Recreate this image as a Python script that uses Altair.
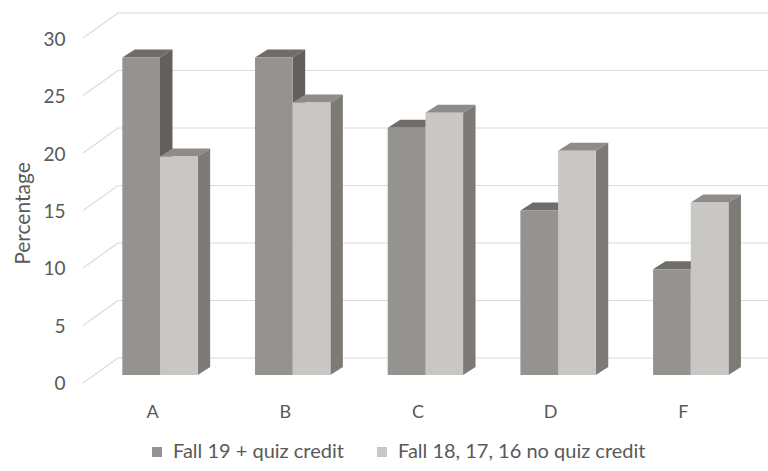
import json
import altair as alt
import pandas as pd

# Grade distribution by group
categories = ["A", "B", "C", "D", "F"]
series_names = ["Fall 19 + quiz credit", "Fall 18, 17, 16 no quiz credit"]
fall19_quiz = [27.6, 27.6, 21.5, 14.3, 9.2]
fall_prior = [19.0, 23.7, 22.8, 19.5, 15.0]
y_ticks = [0, 5, 10, 15, 20, 25, 30]

# Face shading for the pseudo-3D columns
front_colors = ["#959390", "#c9c7c4"]
top_colors = ["#6f6c69", "#8e8b88"]
side_colors = ["#625f5c", "#7e7b77"]
grid_color = "#dcdcdc"
text_color = "#595959"
FONT = "Lato"

# Oblique projection (x in category slots, y in percentage points)
BAR_W = 0.284        # width of one column
DEPTH_X = 0.094      # column depth, horizontal component
DEPTH_Y = 0.70       # column depth, vertical component
FLOOR_FRONT_X = -0.580
WALL_X = -0.3165
FLOOR_FRONT_DY = -0.696
WALL_DY = 1.478
X_DOMAIN = [-0.603, 4.582]
Y_DOMAIN = [-0.696, 32.609]

front_rows, side_rows, top_rows = [], [], []
for si, (name, vals) in enumerate(zip(series_names, [fall19_quiz, fall_prior])):
    for ci, (cat, v) in enumerate(zip(categories, vals)):
        x0 = ci - BAR_W + si * BAR_W
        x1 = x0 + BAR_W
        bar = f"{cat}-{si}"
        front_rows.append(dict(series=name, s=si, bar=bar, x0=x0, x1=x1, v=v, base=0))
        side_rows.append(dict(s=si, bar=bar, x=x1, top=v, bottom=0, shade=side_colors[si]))
        side_rows.append(dict(s=si, bar=bar, x=x1 + DEPTH_X, top=v + DEPTH_Y,
                              bottom=DEPTH_Y, shade=side_colors[si]))
        top_rows.append(dict(s=si, bar=bar, y=v, xl=x0, xr=x1, shade=top_colors[si]))
        top_rows.append(dict(s=si, bar=bar, y=v + DEPTH_Y, xl=x0 + DEPTH_X,
                             xr=x1 + DEPTH_X, shade=top_colors[si]))

front_df = pd.DataFrame(front_rows)
side_df = pd.DataFrame(side_rows)
top_df = pd.DataFrame(top_rows)

wall_df = pd.DataFrame({
    "g": y_ticks,
    "x": [WALL_X] * len(y_ticks),
    "x2": [X_DOMAIN[1]] * len(y_ticks),
    "y": [g + WALL_DY for g in y_ticks],
})
diag_df = pd.DataFrame({
    "x": [FLOOR_FRONT_X] * len(y_ticks),
    "x2": [WALL_X] * len(y_ticks),
    "y": [g + FLOOR_FRONT_DY for g in y_ticks],
    "y2": [g + WALL_DY for g in y_ticks],
})

x_scale = alt.Scale(domain=X_DOMAIN, nice=False, zero=False)
y_scale = alt.Scale(domain=Y_DOMAIN, nice=False, zero=False)

label_expr = json.dumps(categories) + "[datum.value]"

x_axis = alt.Axis(values=list(range(len(categories))), labelExpr=label_expr,
                  grid=False, domain=False, ticks=False, tickSize=0,
                  labelOffset=-8, labelPadding=20, labelFlush=False,
                  labelFontSize=18, labelFont=FONT, labelColor=text_color,
                  title=None)
y_axis = alt.Axis(values=y_ticks, grid=False, domain=False, ticks=False, tickSize=0,
                  labelOffset=9, labelPadding=15, labelFlush=False,
                  labelFontSize=19, labelFont=FONT, labelColor=text_color,
                  title="Percentage", titleFont=FONT, titleFontSize=21,
                  titleFontWeight="normal", titleColor=text_color,
                  titleX=-57, titleY=213, titleBaseline="middle")

wall = alt.Chart(wall_df).mark_rule(color=grid_color, strokeWidth=1.2).encode(
    x=alt.X("x:Q", scale=x_scale, axis=x_axis),
    x2="x2:Q",
    y=alt.Y("y:Q", scale=y_scale, axis=y_axis),
)
diag = alt.Chart(diag_df).mark_rule(color=grid_color, strokeWidth=1.2).encode(
    x="x:Q", x2="x2:Q", y="y:Q", y2="y2:Q",
)

color_enc = alt.Color(
    "series:N",
    scale=alt.Scale(domain=series_names, range=front_colors),
    legend=alt.Legend(
        title=None, orient="none", direction="horizontal",
        legendX=67, legendY=442,
        symbolType="square", symbolSize=100, symbolStrokeWidth=0,
        labelFont=FONT, labelFontSize=20, labelColor=text_color,
        labelOffset=6, columnPadding=28, labelLimit=400,
    ),
)


def column_layers(si):
    side = alt.Chart(side_df).transform_filter(alt.datum.s == si).mark_area().encode(
        x="x:Q", y="top:Q", y2="bottom:Q", detail="bar:N",
        fill=alt.Fill("shade:N", scale=None),
    )
    top = alt.Chart(top_df).transform_filter(alt.datum.s == si).mark_area(
        orient="horizontal").encode(
        y="y:Q", x="xl:Q", x2="xr:Q", detail="bar:N",
        fill=alt.Fill("shade:N", scale=None),
    )
    front = alt.Chart(front_df).transform_filter(alt.datum.s == si).mark_rect().encode(
        x="x0:Q", x2="x1:Q", y="v:Q", y2="base:Q",
        color=color_enc,
    )
    return [side, top, front]


chart = alt.layer(
    wall, diag, *column_layers(0), *column_layers(1)
).properties(
    width=688, height=383,
    autosize=alt.AutoSizeParams(type="none"),
    padding={"left": 80, "top": 0, "right": 0, "bottom": 88},
    background="white",
).configure_view(stroke=None)

chart.save("out.html", embed_options={"renderer": "svg", "actions": False})
